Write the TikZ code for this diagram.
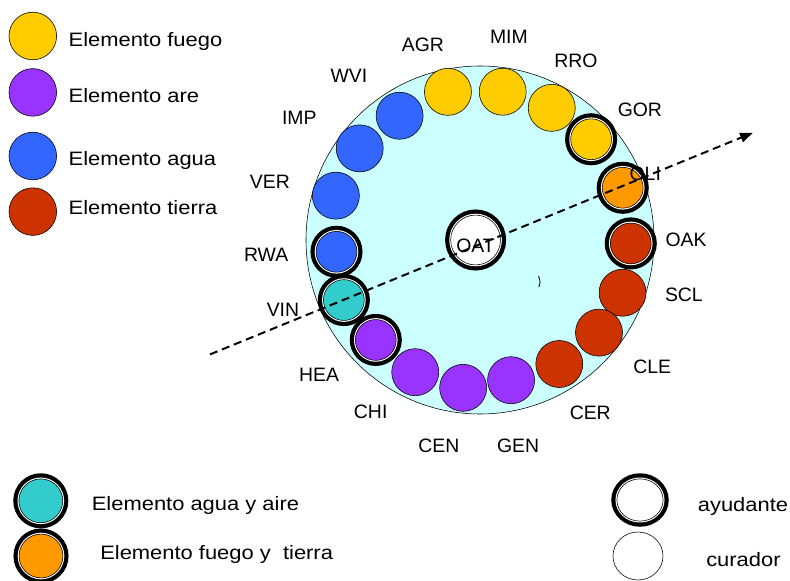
\documentclass[tikz,border=0pt]{standalone}
\usepackage{fontspec}
\usepackage{tikz}
\usepackage{xcolor}
\usetikzlibrary{shapes.geometric,arrows.meta}
\setmainfont{Liberation Sans}
\newfontfamily\legendfont{Liberation Sans}[FakeStretch=1.13]
\definecolor{fuego}{HTML}{FFCC00}
\definecolor{aire}{HTML}{9933FF}
\definecolor{agua}{HTML}{3366FF}
\definecolor{tierra}{HTML}{CC3300}
\definecolor{aguaaire}{HTML}{33CCCC}
\definecolor{fuegotierra}{HTML}{FF9900}
\definecolor{fondo}{HTML}{CCFFFF}

\begin{document}
\begin{tikzpicture}[font=\fontsize{13.8}{16}\selectfont,
        elem/.style={circle,draw,inner sep=0pt,minimum size=1.175cm},
        ayud/.style={circle,draw,inner sep=0pt,minimum size=1.02cm,
            preaction={draw=black,line width=8pt},
            preaction={draw=white,line width=2pt}},
        leyenda/.style={anchor=base west,inner sep=0pt,
            font=\legendfont\fontsize{13.8}{16}\selectfont}]
        \useasboundingbox (-12,-8.525) rectangle (7.75,6);
        % Circulo
        \draw[fill=fondo] (0,0) circle (4.35);
        % Fuego
        \draw (102.2:3.79) node[elem,fill=fuego](agr) {};
        \draw (81.3:3.75) node[elem,fill=fuego](mim) {};
        \draw (61.5:3.76) node[elem,fill=fuego](rro) {};
        \draw (42.2:3.75) node[ayud,fill=fuego](gor) {};
        \draw (20.1:3.8) node[ayud,fill=fuegotierra](oli) {};
        % Tierra
        \draw (-1.3:3.77) node[ayud,fill=tierra](oak) {};
        \draw (-20.3:3.8) node[elem,fill=tierra](scl) {};
        \draw (-37.9:3.77) node[elem,fill=tierra](cle) {};
        \draw (-57.4:3.68) node[elem,fill=tierra](cer) {};
        % Aire
        \draw (-77.5:3.59) node[elem,fill=aire](gen) {};
        \draw (-96.5:3.72) node[elem,fill=aire](cen) {};
        \draw (-116.1:3.68) node[elem,fill=aire](chi) {};
        \draw (-136.2:3.61) node[ayud,fill=aire](hea) {};
        \draw (-156.2:3.72) node[ayud,fill=aguaaire](vin) {};
        % Agua
        \draw (-175.3:3.6) node[ayud,fill=agua](rwa) {};
        \draw (162.9:3.77) node[elem,fill=agua](ver) {};
        \draw (142.7:3.78) node[elem,fill=agua](imp) {};
        \draw (122.9:3.7) node[elem,fill=agua](wvi) {};
        % Curador
        \draw (-0.11,0) node[ayud,fill=white,minimum size=1.245cm](oat) {};
        \draw[line width=0.6pt] (1.46,-0.9) to[bend left=25] (1.47,-1.18);
        % Eje
        \coordinate (ini) at (-6.75,-2.86);
        \coordinate (fin) at (6.82,2.68);
        \draw[line width=1.4pt,dash pattern=on 5.7pt off 3.5pt,-{Triangle[length=9pt,width=7pt]}] (ini) -- (fin);
        \draw ([yshift=-0.15cm]oat.center) node(toat) {OAT};
        % Nombres
        \draw (106.3:5.08) node(tagr) {AGR};
        \draw (81.9:5.13) node(tmim) {MIM};
        \draw (61.8:5.08) node(trro) {RRO};
        \draw (39.1:5.15) node(tgor) {GOR};
        \draw (21.8:4.45) node(toli) {OLI};
        \draw (0:5.15) node(toak) {OAK};
        \draw (-15.1:5.28) node(tscl) {SCL};
        \draw (-36.4:5.35) node(tcle) {CLE};
        \draw (-57.5:5.13) node(tcer) {CER};
        \draw (-79.5:5.23) node(tgen) {GEN};
        \draw (-101.3:5.25) node(tcen) {CEN};
        \draw (-122.4:5.1) node(tchi) {CHI};
        \draw (-140:5.25) node(thea) {HEA};
        \draw (-160.4:5.23) node(tvin) {VIN};
        \draw (-176:5.36) node(trwa) {RWA};
        \draw (164.6:5.45) node(tver) {VER};
        \draw (146:5.45) node(timp) {IMP};
        \draw (128.6:5.25) node(twvi) {WVI};
        % Leyenda
        \draw (-11.18,5.1) node[elem,fill=fuego,minimum size=1.19cm](lfuego) {};
        \draw (-11.18,3.69) node[elem,fill=aire,minimum size=1.19cm](laire) {};
        \draw (-11.18,2.1) node[elem,fill=agua,minimum size=1.19cm](lagua) {};
        \draw (-11.18,0.71) node[elem,fill=tierra,minimum size=1.19cm](ltierra) {};
        \draw (-10.29,4.83) node[leyenda](tfuego) {Elemento fuego};
        \draw (-10.29,3.44) node[leyenda](taire) {Elemento are};
        \draw (-10.29,1.86) node[leyenda](tagua) {Elemento agua};
        \draw (-10.29,0.625) node[leyenda](ttierra) {Elemento tierra};
        \draw (-10.98,-6.52) node[ayud,fill=aguaaire,minimum size=1.095cm](laa) {};
        \draw (-10.975,-7.9) node[ayud,fill=fuegotierra,minimum size=1.095cm](lft) {};
        \draw (4.0,-6.5) node[ayud,ellipse,fill=white,minimum width=1.155cm,minimum height=1.055cm](layud) {};
        \draw (3.95,-7.9) node[ellipse,draw,inner sep=0pt,minimum width=1.25cm,minimum height=1.2cm](lcur) {};
        \draw (-9.71,-6.77) node[leyenda](taa) {Elemento agua y aire};
        \draw (-9.5,-7.98) node[leyenda](tft) {Elemento fuego y~ tierra};
        \draw (5.44,-6.79) node[leyenda](tayud) {ayudante};
        \draw (5.65,-8.17) node[leyenda](tcur) {curador};
    \end{tikzpicture}
\end{document}
